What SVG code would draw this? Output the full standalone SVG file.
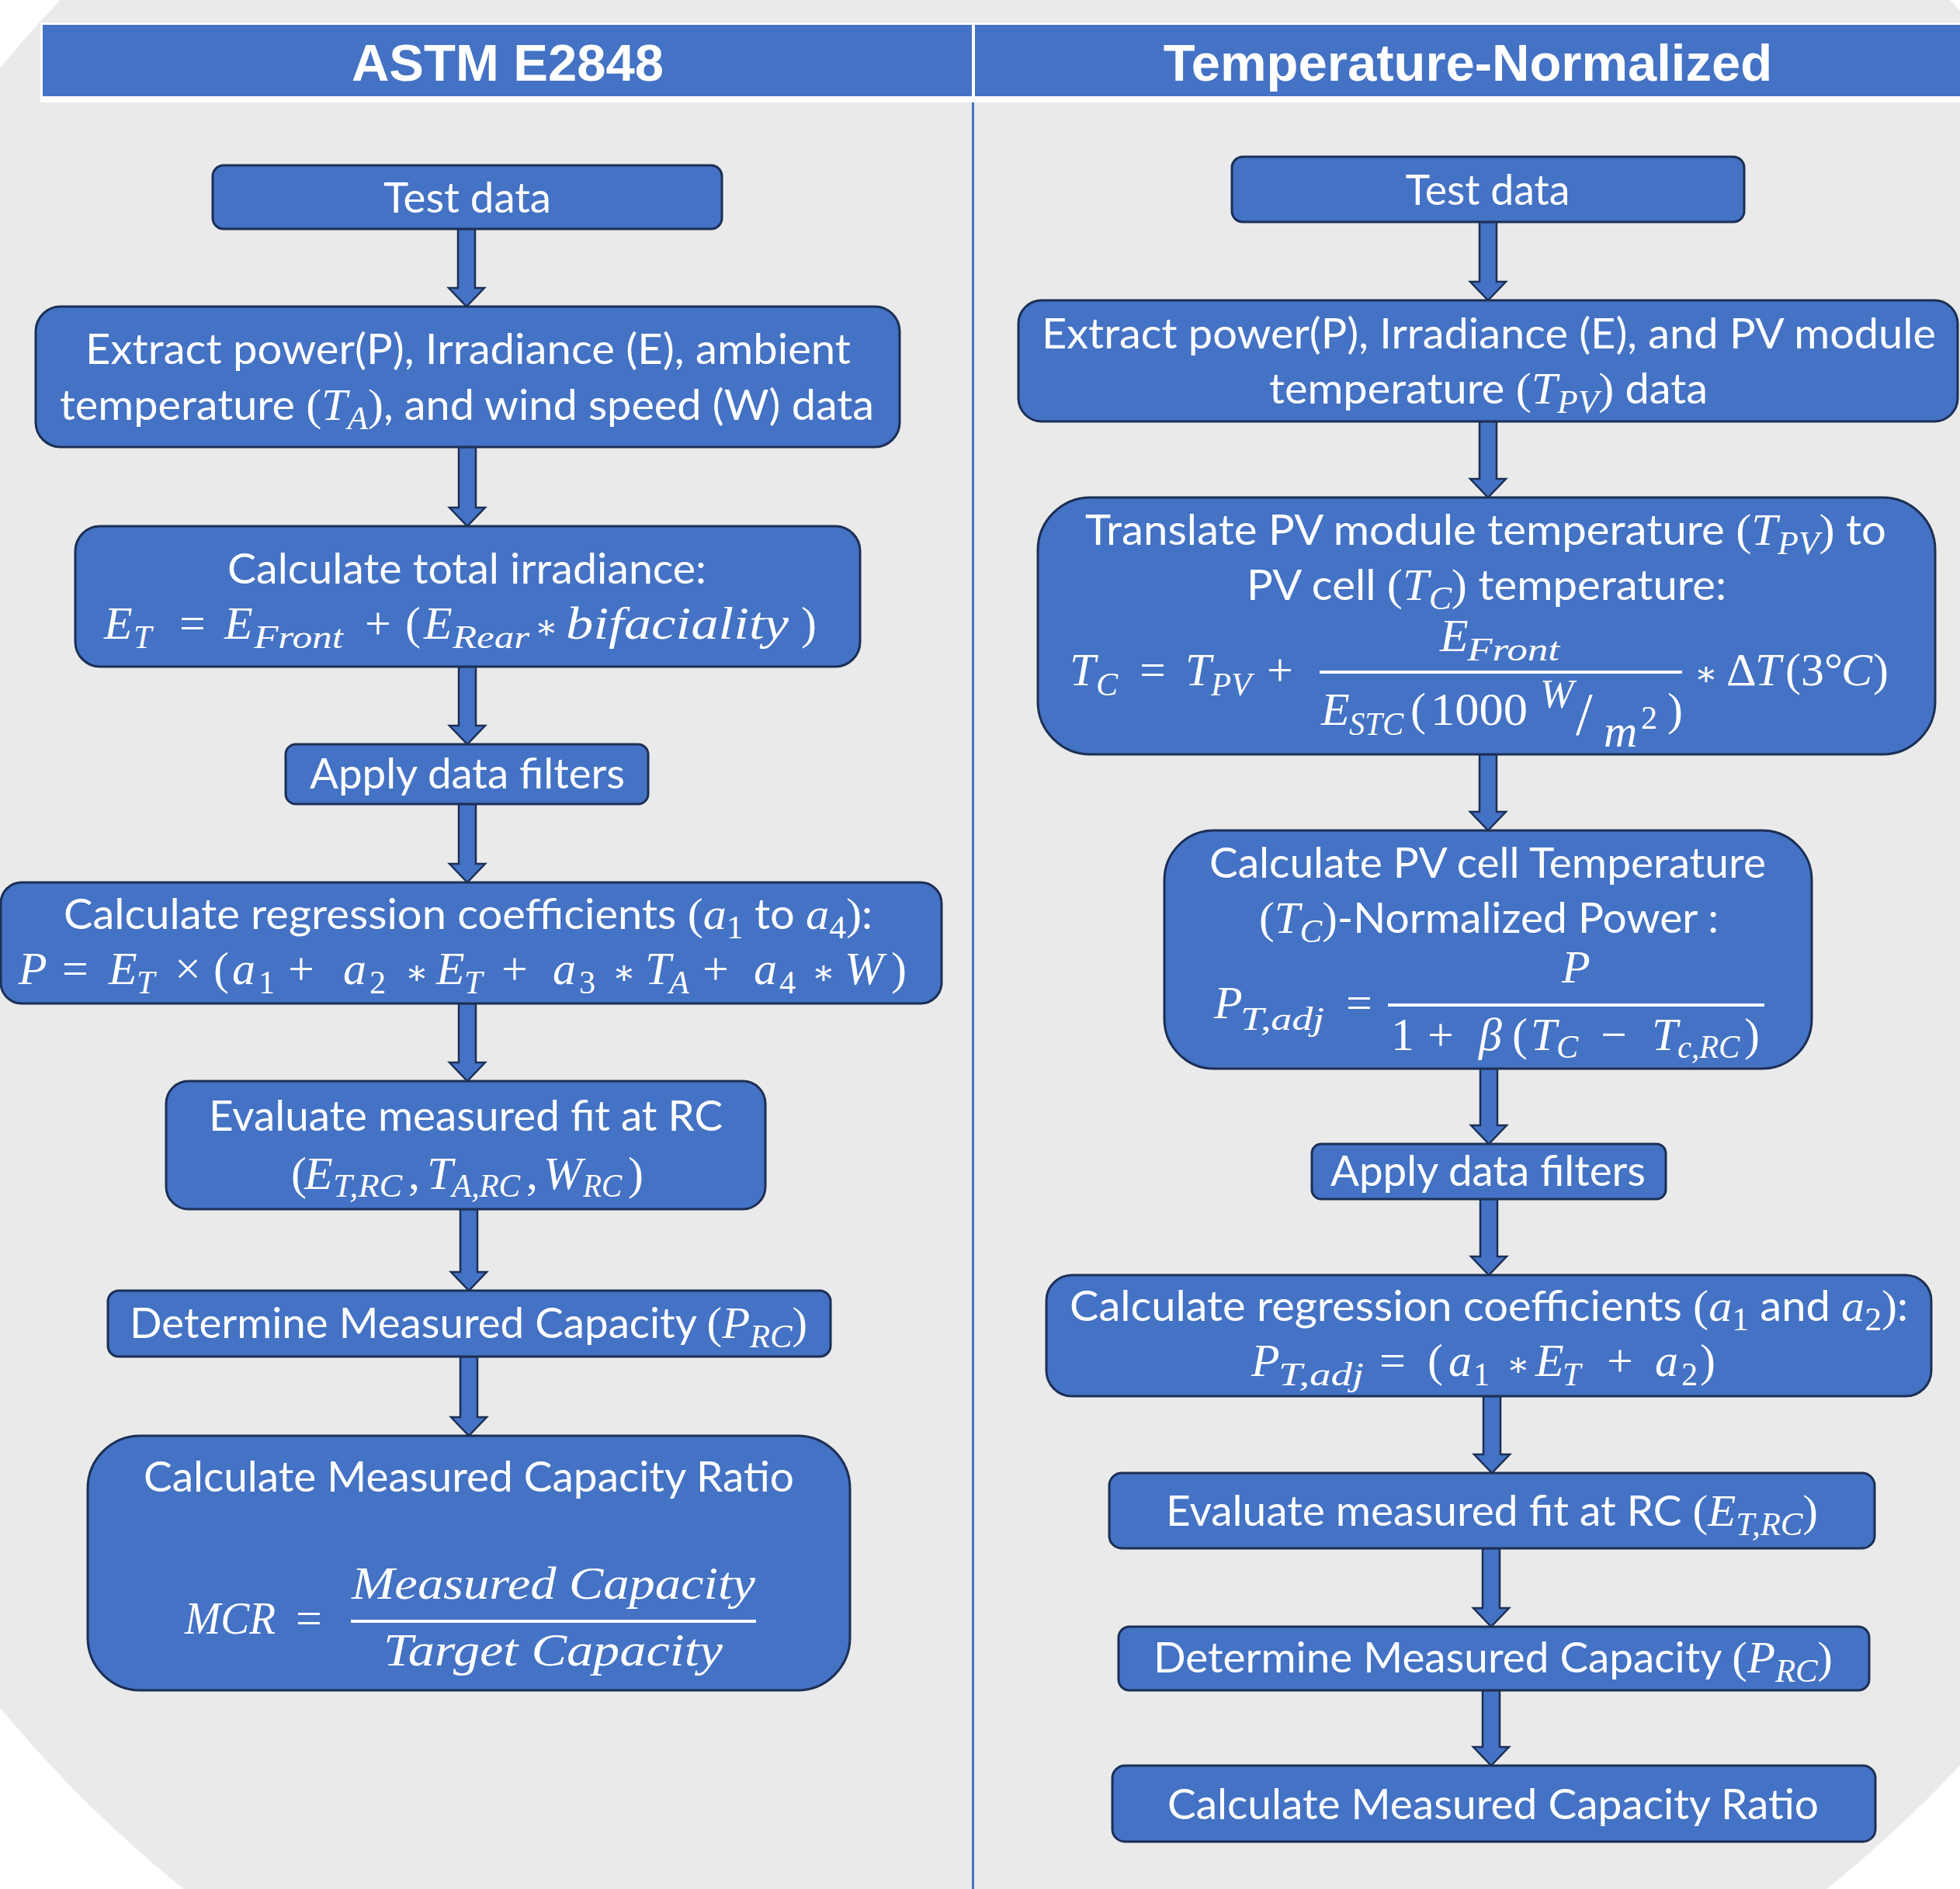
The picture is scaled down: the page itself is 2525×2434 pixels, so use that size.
<svg xmlns="http://www.w3.org/2000/svg" width="2525" height="2434" viewBox="0 0 2525 2434">
<style>
.box{fill:#4472C4;stroke:#1C2F55;stroke-width:3}
.arr{fill:#4472C4;stroke:#1C2F55;stroke-width:2.5;stroke-linejoin:miter}
.t{font-family:Lato,"Open Sans","Liberation Sans",sans-serif;font-size:54px;fill:#fff;text-anchor:middle}
.mi{font-family:"Liberation Serif","DejaVu Serif",serif;font-style:italic;font-size:58px}
.mu{font-family:"Liberation Serif","DejaVu Serif",serif;font-style:normal;font-size:58px}
.f{font-family:"Liberation Serif","DejaVu Serif",serif;font-style:italic;font-size:60px;fill:#fff}
.fu{font-style:normal}
.s{font-size:42px}
.op{font-size:44px;font-style:normal}
.h{font-family:"Liberation Sans",Arial,sans-serif;font-weight:bold;font-size:67px;fill:#fff;text-anchor:middle}
.bar{fill:#fff}
</style>
<rect width="2525" height="2434" fill="#fff"/>
<ellipse cx="1295" cy="1144" rx="1677" ry="1663" fill="#EAEAEA"/>

<g id="header">
<rect x="52" y="29" width="2480" height="103" fill="#fff"/>
<rect x="55" y="32" width="1197" height="92" fill="#4472C4"/>
<rect x="1256" y="32" width="1275" height="92" fill="#4472C4"/>
<text class="h" x="654" y="104">ASTM E2848</text>
<text class="h" x="1891" y="104">Temperature-Normalized</text>
</g>
<line id="divider" x1="1253.5" y1="132" x2="1253.5" y2="2434" stroke="#4472C4" stroke-width="3"/>

<g id="connectors">
<polygon class="arr" points="590,295 612,295 612,371 624,371 601,395 578,371 590,371"/>
<polygon class="arr" points="591,576 613,576 613,654 625,654 602,678 579,654 591,654"/>
<polygon class="arr" points="591,859 613,859 613,935 625,935 602,959 579,935 591,935"/>
<polygon class="arr" points="591,1036 613,1036 613,1113 625,1113 602,1137 579,1113 591,1113"/>
<polygon class="arr" points="591,1293 613,1293 613,1369 625,1369 602,1393 579,1369 591,1369"/>
<polygon class="arr" points="593,1558 615,1558 615,1639 627,1639 604,1663 581,1639 593,1639"/>
<polygon class="arr" points="593,1748 615,1748 615,1826 627,1826 604,1850 581,1826 593,1826"/>

<polygon class="arr" points="1906,286 1928,286 1928,363 1940,363 1917,387 1894,363 1906,363"/>
<polygon class="arr" points="1906,543 1928,543 1928,617 1940,617 1917,641 1894,617 1906,617"/>
<polygon class="arr" points="1906,972 1928,972 1928,1046 1940,1046 1917,1070 1894,1046 1906,1046"/>
<polygon class="arr" points="1907,1377 1929,1377 1929,1450 1941,1450 1918,1474 1895,1450 1907,1450"/>
<polygon class="arr" points="1907,1545 1929,1545 1929,1619 1941,1619 1918,1643 1895,1619 1907,1619"/>
<polygon class="arr" points="1911,1799 1933,1799 1933,1874 1945,1874 1922,1898 1899,1874 1911,1874"/>
<polygon class="arr" points="1910,1995 1932,1995 1932,2072 1944,2072 1921,2096 1898,2072 1910,2072"/>
<polygon class="arr" points="1910,2178 1932,2178 1932,2251 1944,2251 1921,2275 1898,2251 1910,2251"/>
</g>

<g id="L1">
<rect class="box" x="274" y="213" width="656" height="82" rx="14"/>
<text class="t" x="602" y="274" textLength="216" lengthAdjust="spacingAndGlyphs">Test data</text>
</g>
<g id="L2">
<rect class="box" x="46" y="395" width="1113" height="181" rx="32"/>
<text class="t" x="603" y="469" textLength="986" lengthAdjust="spacingAndGlyphs">Extract power(P), Irradiance (E), ambient</text>
<text class="t" x="601.5" y="541" textLength="1049" lengthAdjust="spacingAndGlyphs">temperature <tspan class="mu">(</tspan><tspan class="mi">T</tspan><tspan class="mi s" dy="12">A</tspan><tspan class="mu" dy="-12">)</tspan>, and wind speed (W) data</text>
</g>
<g id="L3">
<rect class="box" x="97" y="678" width="1011" height="181" rx="32"/>
<text class="t" x="601.5" y="752" textLength="617" lengthAdjust="spacingAndGlyphs">Calculate total irradiance:</text>
<text class="f"><tspan x="134" y="823">E</tspan><tspan class="s" x="172" y="835">T</tspan><tspan class="fu" x="231" y="823">=</tspan><tspan x="289" y="823">E</tspan><tspan class="fu" x="470" y="823">+</tspan><tspan class="fu" x="522" y="823">(</tspan><tspan x="546" y="823">E</tspan><tspan class="op" x="689" y="823">∗</tspan><tspan class="fu" x="1032" y="823">)</tspan></text>
<text class="f s" x="327" y="835" textLength="115" lengthAdjust="spacingAndGlyphs">Front</text>
<text class="f s" x="583" y="835" textLength="99" lengthAdjust="spacingAndGlyphs">Rear</text>
<text class="f" x="729" y="823" textLength="287" lengthAdjust="spacingAndGlyphs">bifaciality</text>
</g>
<g id="L4">
<rect class="box" x="368" y="959" width="467" height="77" rx="13"/>
<text class="t" x="602" y="1016" textLength="406" lengthAdjust="spacingAndGlyphs">Apply data filters</text>
</g>
<g id="L5">
<rect class="box" x="1" y="1137" width="1212" height="156" rx="27"/>
<text class="t" x="603" y="1197" textLength="1042" lengthAdjust="spacingAndGlyphs">Calculate regression coefficients <tspan class="mu">(</tspan><tspan class="mi">a</tspan><tspan class="mu s" dy="12">1</tspan><tspan dy="-12"> to </tspan><tspan class="mi">a</tspan><tspan class="mu s" dy="12">4</tspan><tspan class="mu" dy="-12">)</tspan>:</text>
<text class="f"><tspan x="24" y="1268">P</tspan><tspan class="fu" x="80" y="1268">=</tspan><tspan x="140" y="1268">E</tspan><tspan class="s" x="176" y="1280">T</tspan><tspan class="fu" x="225" y="1268">×</tspan><tspan class="fu" x="275" y="1268">(</tspan><tspan x="299" y="1268">a</tspan><tspan class="fu s" x="333" y="1280">1</tspan><tspan class="fu" x="371" y="1268">+</tspan><tspan x="442" y="1268">a</tspan><tspan class="fu s" x="476" y="1280">2</tspan><tspan class="op" x="522" y="1268">∗</tspan><tspan x="562" y="1268">E</tspan><tspan class="s" x="598" y="1280">T</tspan><tspan class="fu" x="646" y="1268">+</tspan><tspan x="712" y="1268">a</tspan><tspan class="fu s" x="746" y="1280">3</tspan><tspan class="op" x="789" y="1268">∗</tspan><tspan x="831" y="1268">T</tspan><tspan class="s" x="862" y="1280">A</tspan><tspan class="fu" x="905" y="1268">+</tspan><tspan x="971" y="1268">a</tspan><tspan class="fu s" x="1004" y="1280">4</tspan><tspan class="op" x="1046" y="1268">∗</tspan><tspan x="1088" y="1268">W</tspan><tspan class="fu" x="1148" y="1268">)</tspan></text>
</g>
<g id="L6">
<rect class="box" x="214" y="1393" width="772" height="165" rx="29"/>
<text class="t" x="600" y="1457" textLength="662" lengthAdjust="spacingAndGlyphs">Evaluate measured fit at RC</text>
<text class="f"><tspan class="fu" x="375" y="1532">(</tspan><tspan x="392" y="1532">E</tspan><tspan class="fu" x="526" y="1532">,</tspan><tspan x="550" y="1532">T</tspan><tspan class="fu" x="678" y="1532">,</tspan><tspan x="700" y="1532">W</tspan><tspan class="fu" x="809" y="1532">)</tspan></text>
<text class="f s" x="429" y="1542" textLength="89" lengthAdjust="spacingAndGlyphs">T,RC</text>
<text class="f s" x="582" y="1542" textLength="88" lengthAdjust="spacingAndGlyphs">A,RC</text>
<text class="f s" x="751" y="1542" textLength="50" lengthAdjust="spacingAndGlyphs">RC</text>
</g>
<g id="L7">
<rect class="box" x="139" y="1663" width="931" height="85" rx="14"/>
<text class="t" x="603.5" y="1724" textLength="873" lengthAdjust="spacingAndGlyphs">Determine Measured Capacity <tspan class="mu">(</tspan><tspan class="mi">P</tspan><tspan class="mi s" dy="12">RC</tspan><tspan class="mu" dy="-12">)</tspan></text>
</g>
<g id="L8">
<rect class="box" x="113" y="1850" width="982" height="328" rx="68"/>
<text class="t" x="604" y="1922" textLength="838" lengthAdjust="spacingAndGlyphs">Calculate Measured Capacity Ratio</text>
<text class="f" x="238" y="2105" textLength="117" lengthAdjust="spacingAndGlyphs">MCR</text>
<text class="f fu" x="381" y="2105">=</text>
<text class="f" x="453" y="2060" textLength="520" lengthAdjust="spacingAndGlyphs">Measured Capacity</text>
<rect class="bar" x="452" y="2087" width="522" height="4"/>
<text class="f" x="494" y="2146" textLength="437" lengthAdjust="spacingAndGlyphs">Target Capacity</text>
</g>

<g id="R1">
<rect class="box" x="1587" y="202" width="660" height="84" rx="14"/>
<text class="t" x="1916.5" y="264" textLength="212" lengthAdjust="spacingAndGlyphs">Test data</text>
</g>
<g id="R2">
<rect class="box" x="1312" y="387" width="1210" height="156" rx="30"/>
<text class="t" x="1918" y="449" textLength="1152" lengthAdjust="spacingAndGlyphs">Extract power(P), Irradiance (E), and PV module</text>
<text class="t" x="1917.5" y="520" textLength="565" lengthAdjust="spacingAndGlyphs">temperature <tspan class="mu">(</tspan><tspan class="mi">T</tspan><tspan class="mi s" dy="12">PV</tspan><tspan class="mu" dy="-12">)</tspan> data</text>
</g>
<g id="R3">
<rect class="box" x="1337" y="641" width="1156" height="331" rx="68"/>
<text class="t" x="1914" y="702" textLength="1032" lengthAdjust="spacingAndGlyphs">Translate PV module temperature <tspan class="mu">(</tspan><tspan class="mi">T</tspan><tspan class="mi s" dy="12">PV</tspan><tspan class="mu" dy="-12">)</tspan> to</text>
<text class="t" x="1915" y="773" textLength="618" lengthAdjust="spacingAndGlyphs">PV cell <tspan class="mu">(</tspan><tspan class="mi">T</tspan><tspan class="mi s" dy="12">C</tspan><tspan class="mu" dy="-12">)</tspan> temperature:</text>
<text class="f"><tspan x="1378" y="883">T</tspan><tspan class="s" x="1412" y="896">C</tspan><tspan class="fu" x="1468" y="883">=</tspan><tspan x="1527" y="883">T</tspan><tspan class="fu" x="1632" y="883">+</tspan><tspan x="1855" y="839">E</tspan><tspan x="1702" y="934">E</tspan><tspan class="fu" x="1817" y="934">(</tspan><tspan x="1984" y="912" font-size="52">W</tspan><tspan class="fu" x="2030" y="946" font-size="78">/</tspan><tspan x="2066" y="962">m</tspan><tspan class="fu s" x="2114" y="939">2</tspan><tspan class="fu" x="2148" y="934">)</tspan><tspan class="op" x="2183" y="883">∗</tspan><tspan class="fu" x="2224" y="883">Δ</tspan><tspan x="2261" y="883">T</tspan><tspan class="fu" x="2300" y="883">(3°</tspan><tspan x="2372" y="883">C</tspan><tspan class="fu" x="2413" y="883">)</tspan></text>
<text class="f s" x="1560" y="896" textLength="52" lengthAdjust="spacingAndGlyphs">PV</text>
<text class="f s" x="1890" y="851" textLength="119" lengthAdjust="spacingAndGlyphs">Front</text>
<text class="f s" x="1738" y="947" textLength="70" lengthAdjust="spacingAndGlyphs">STC</text>
<text class="f fu" x="1843" y="934" textLength="125" lengthAdjust="spacingAndGlyphs">1000</text>
<rect class="bar" x="1700" y="864" width="467" height="4"/>
</g>
<g id="R4">
<rect class="box" x="1500" y="1070" width="834" height="307" rx="64"/>
<text class="t" x="1916.5" y="1131" textLength="717" lengthAdjust="spacingAndGlyphs">Calculate PV cell Temperature</text>
<text class="t" x="1918" y="1202" textLength="592" lengthAdjust="spacingAndGlyphs"><tspan class="mu">(</tspan><tspan class="mi">T</tspan><tspan class="mi s" dy="12">C</tspan><tspan class="mu" dy="-12">)</tspan>-Normalized Power :</text>
<text class="f"><tspan x="1564" y="1312">P</tspan><tspan class="fu" x="1734" y="1312">=</tspan><tspan x="2012" y="1266">P</tspan><tspan class="fu" x="1792" y="1353">1</tspan><tspan class="fu" x="1839" y="1353">+</tspan><tspan x="1905" y="1353">β</tspan><tspan class="fu" x="1948" y="1353">(</tspan><tspan x="1972" y="1353">T</tspan><tspan class="s" x="2005" y="1363">C</tspan><tspan class="fu" x="2062" y="1353">−</tspan><tspan x="2128" y="1353">T</tspan><tspan class="fu" x="2247" y="1353">)</tspan></text>
<text class="f s" x="1598" y="1327" textLength="108" lengthAdjust="spacingAndGlyphs">T,adj</text>
<text class="f s" x="2161" y="1363" textLength="80" lengthAdjust="spacingAndGlyphs">c,RC</text>
<rect class="bar" x="1788" y="1293" width="485" height="4"/>
</g>
<g id="R5">
<rect class="box" x="1690" y="1474" width="456" height="71" rx="12"/>
<text class="t" x="1917" y="1528" textLength="406" lengthAdjust="spacingAndGlyphs">Apply data filters</text>
</g>
<g id="R6">
<rect class="box" x="1348" y="1643" width="1140" height="156" rx="33"/>
<text class="t" x="1918" y="1702" textLength="1080" lengthAdjust="spacingAndGlyphs">Calculate regression coefficients <tspan class="mu">(</tspan><tspan class="mi">a</tspan><tspan class="mu s" dy="12">1</tspan><tspan dy="-12"> and </tspan><tspan class="mi">a</tspan><tspan class="mu s" dy="12">2</tspan><tspan class="mu" dy="-12">)</tspan>:</text>
<text class="f"><tspan x="1612" y="1773">P</tspan><tspan class="fu" x="1777" y="1773">=</tspan><tspan class="fu" x="1839" y="1773">(</tspan><tspan x="1866" y="1773">a</tspan><tspan class="fu s" x="1898" y="1785">1</tspan><tspan class="op" x="1941" y="1773">∗</tspan><tspan x="1978" y="1773">E</tspan><tspan class="s" x="2013" y="1785">T</tspan><tspan class="fu" x="2070" y="1773">+</tspan><tspan x="2132" y="1773">a</tspan><tspan class="fu s" x="2166" y="1785">2</tspan><tspan class="fu" x="2190" y="1773">)</tspan></text>
<text class="f s" x="1647" y="1785" textLength="110" lengthAdjust="spacingAndGlyphs">T,adj</text>
</g>
<g id="R7">
<rect class="box" x="1429" y="1898" width="986" height="97" rx="16"/>
<text class="t" x="1922" y="1966" textLength="840" lengthAdjust="spacingAndGlyphs">Evaluate measured fit at RC <tspan class="mu">(</tspan><tspan class="mi">E</tspan><tspan class="mi s" dy="12">T,RC</tspan><tspan class="mu" dy="-12">)</tspan></text>
</g>
<g id="R8">
<rect class="box" x="1441" y="2096" width="967" height="82" rx="14"/>
<text class="t" x="1923.5" y="2155" textLength="875" lengthAdjust="spacingAndGlyphs">Determine Measured Capacity <tspan class="mu">(</tspan><tspan class="mi">P</tspan><tspan class="mi s" dy="12">RC</tspan><tspan class="mu" dy="-12">)</tspan></text>
</g>
<g id="R9">
<rect class="box" x="1433" y="2275" width="983" height="98" rx="16"/>
<text class="t" x="1923.5" y="2344" textLength="839" lengthAdjust="spacingAndGlyphs">Calculate Measured Capacity Ratio</text>
</g>
</svg>
